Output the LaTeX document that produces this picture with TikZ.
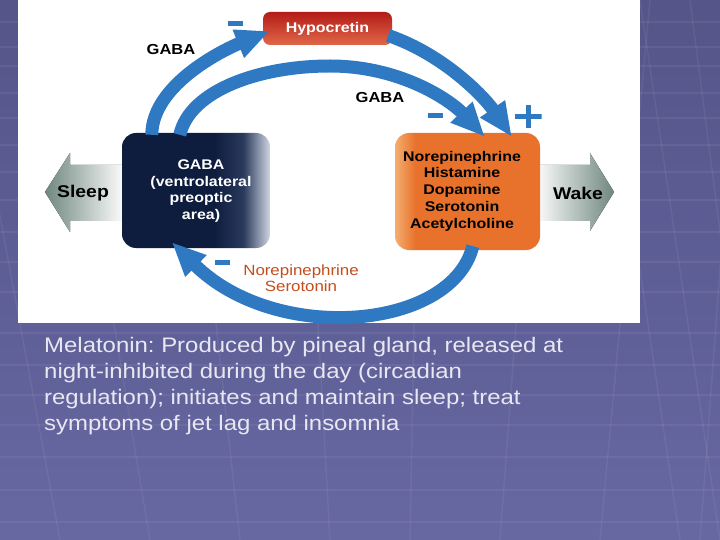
\documentclass[tikz,border=0pt]{standalone}
\usepackage{fontspec}
\setmainfont[FakeStretch=1.14]{Liberation Sans}
\usetikzlibrary{arrows.meta,calc}
\definecolor{bgtop}{HTML}{55558A}
\definecolor{bgbot}{HTML}{6767A2}
\definecolor{arcblue}{HTML}{2F78C2}
\definecolor{hyptop}{HTML}{B41C16}
\definecolor{hypbot}{HTML}{E0684A}
\definecolor{neorange}{HTML}{E8722C}
\definecolor{nelight}{HTML}{F4AE70}
\definecolor{navy}{HTML}{0E1C3E}
\definecolor{navymid}{HTML}{2A3A5C}
\definecolor{navylight}{HTML}{D0D6E2}
\definecolor{sleepgreen}{HTML}{6F877E}
\definecolor{nslabel}{HTML}{C24E1E}
\definecolor{caption}{HTML}{E8E8F2}
\pgfdeclarehorizontalshading{gabash}{100bp}{color(0bp)=(navy); color(25bp)=(navy); color(56bp)=(navy); color(66bp)=(navymid); color(75bp)=(navylight); color(100bp)=(navylight)}
\pgfdeclarehorizontalshading{nesh}{100bp}{color(0bp)=(nelight); color(25bp)=(nelight); color(32bp)=(neorange); color(75bp)=(neorange); color(100bp)=(neorange)}
\frenchspacing
\begin{document}
\begin{tikzpicture}[x=1pt,y=-1pt,
  flow/.style={draw=arcblue,line width=13pt,
    -{Triangle[length=34pt 0 0,width=28pt 0 0]}},
  lbl/.style={font=\fontsize{14.5}{16}\selectfont\bfseries},
  minus/.style={fill=arcblue,minimum width=15pt,minimum height=5pt,inner sep=0pt},
  gridline/.style={white,opacity=0.06,line width=1.5pt}]
\useasboundingbox (0,0) rectangle (720,540);
% background
\fill[top color=bgtop,bottom color=bgbot] (0,0) rectangle (720,540);
\foreach \yy in {22,47,66,93,118,145,172,200,232,262,292,333,365,395,425,457,490,522}
  \draw[gridline] (0,\yy) -- (720,\yy);
\foreach \xa/\xb in {-40/60,60/150,180/240,300/330,420/410,540/500,650/600,740/700}
  \draw[gridline] (\xa,0) -- (\xb,540);
\foreach \xa/\xb in {640/720,690/760,600/680}
  \draw[gridline] (\xa,0) -- (\xb,540);
% white panel
\fill[white] (18,0) rectangle (640,323);
% side arrows
\fill[left color=sleepgreen,right color=white] (125,165) -- (70,165) -- (70,153) -- (45,192) -- (70,232) -- (70,221) -- (125,221) -- cycle;
\fill[left color=white,right color=sleepgreen] (535,165) -- (590,165) -- (590,153) -- (614,192) -- (590,231) -- (590,221) -- (535,221) -- cycle;
% boxes
\node[rounded corners=7pt,minimum width=129pt,minimum height=33pt,top color=hyptop,bottom color=hypbot,
  text=white,font=\fontsize{14}{16}\selectfont\bfseries] (hyp) at (327.5,28.5) {Hypocretin};
\node[rounded corners=14pt,minimum width=148pt,minimum height=115pt,shading=gabash] (gaba) at (196,190.5) {};
\node[rounded corners=14pt,minimum width=145pt,minimum height=117pt,shading=nesh] (ne) at (467.5,191.5) {};
% flows
\draw[flow] ($(gaba.north west)+(30,2)$) .. controls (152,85) and (223,50) .. ($(hyp.west)+(7,2.5)$);
\draw[flow] ($(gaba.north west)+(58,2)$) .. controls (190,90) and (260,66) .. (330,66)
  .. controls (400,66) and (450,100) .. ($(ne.north west)+(90,4)$);
\draw[flow] ($(hyp.east)+(-4,7)$) .. controls (445,55) and (485,98) .. ($(ne.north west)+(117,4)$);
\draw[flow] ($(ne.south west)+(78,-4)$) .. controls (452,330) and (276,345) .. ($(gaba.south west)+(50,-6)$);
% texts in boxes
\node[text=white,align=center,font=\fontsize{14}{16.7}\selectfont\bfseries] (gabatxt) at (201,191)
  {GABA\\(ventrolateral\\preoptic\\area)};
\node[align=center,font=\fontsize{14}{16.8}\selectfont\bfseries] (netxt) at (462,191)
  {Norepinephrine\\Histamine\\Dopamine\\Serotonin\\Acetylcholine};
\node[font=\fontsize{17}{19}\selectfont\bfseries] (sleep) at (83,193) {Sleep};
\node[font=\fontsize{17}{19}\selectfont\bfseries] (wake) at (578,193) {Wake};
% labels
\node[lbl] (g1) at (171,50) {GABA};
\node[lbl] (g2) at (380,98) {GABA};
\node[minus] (m1) at (235.5,23.5) {};
\node[minus] (m2) at (435,116) {};
\node[minus] (m3) at (222,262.5) {};
\node[minimum size=27pt,inner sep=0pt,
  path picture={\draw[arcblue,line width=5pt]
    (path picture bounding box.west) -- (path picture bounding box.east)
    ($(path picture bounding box.north)+(0,2)$) -- ($(path picture bounding box.south)+(0,-2)$);}]
  (plus) at (528,117) {};
\node[text=nslabel,align=center,font=\fontsize{14.8}{16}\selectfont] (ns) at (301,278) {Norepinephrine\\Serotonin};
% caption
\node[anchor=north west,align=left,text=caption,font=\fontsize{21}{26}\selectfont,inner sep=0pt] (cap) at (44,337)
  {Melatonin: Produced by pineal gland, released at\\night-inhibited during the day (circadian\\regulation); initiates and maintain sleep; treat\\symptoms of jet lag and insomnia};
\end{tikzpicture}
\end{document}
